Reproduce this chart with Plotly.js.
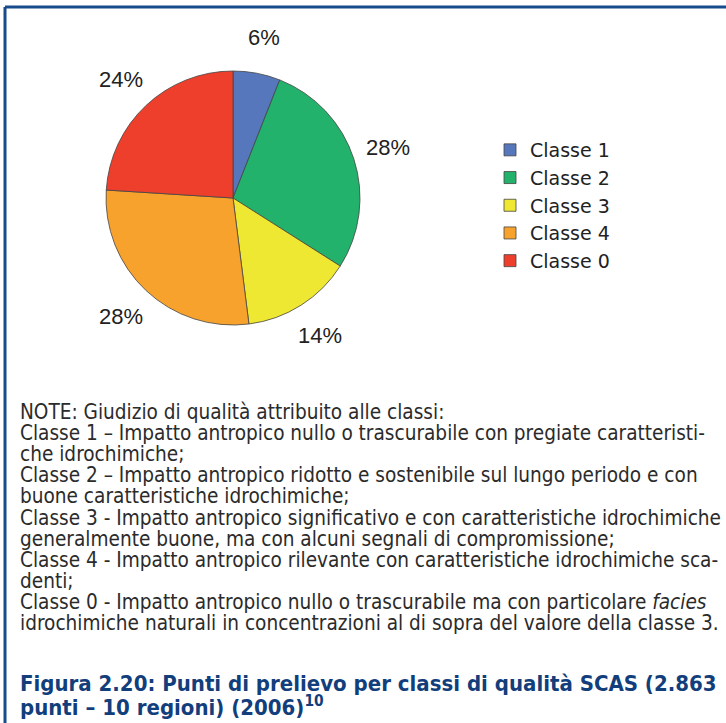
<!DOCTYPE html>
<html>
<head>
<meta charset="utf-8">
<script src="https://cdn.plot.ly/plotly-3.0.1.min.js"></script>
<style>html,body{margin:0;padding:0;background:#fff;}#chart{width:726px;height:723px;}</style>
</head>
<body>
<div id="chart"></div>
<script>
const categories = ["Classe 1", "Classe 2", "Classe 3", "Classe 4", "Classe 0"];
const values = [6, 28, 14, 28, 24];
const colors = ["#5677BC", "#22B26B", "#EEE832", "#F8A22E", "#EE3F2C"];
const noteLines = [
  "NOTE: Giudizio di qualità attribuito alle classi:",
  "Classe 1 – Impatto antropico nullo o trascurabile con pregiate caratteristi-",
  "che idrochimiche;",
  "Classe 2 – Impatto antropico ridotto e sostenibile sul lungo periodo e con",
  "buone caratteristiche idrochimiche;",
  "Classe 3 - Impatto antropico significativo e con caratteristiche idrochimiche",
  "generalmente buone, ma con alcuni segnali di compromissione;",
  "Classe 4 - Impatto antropico rilevante con caratteristiche idrochimiche sca-",
  "denti;",
  "Classe 0 - Impatto antropico nullo o trascurabile ma con particolare <i>facies</i>",
  "idrochimiche naturali in concentrazioni al di sopra del valore della classe 3."
];
const titleLines = [
  "Figura 2.20: Punti di prelievo per classi di qualità SCAS (2.863",
  "punti – 10 regioni) (2006)<sup>10</sup>"
];

const W = 726, H = 723;
const px = x => x / W;
const py = y => 1 - y / H;
const narrow = "DejaVu Sans Condensed, Liberation Sans Narrow, sans-serif";

// pie geometry (pixels)
const CX = 233, CY = 198, R = 127, LABEL_R = 163;

const annotations = [];
// percentage labels placed at each slice's mid-angle (derived from values)
const total = values.reduce((a, b) => a + b, 0);
let cum = 0;
values.forEach((v) => {
  const mid = (cum + v / 2) / total * 2 * Math.PI;
  cum += v;
  annotations.push({
    xref: "paper", yref: "paper",
    x: px(CX + LABEL_R * Math.sin(mid)), y: py(CY - LABEL_R * Math.cos(mid)),
    xanchor: "center", yanchor: "middle", showarrow: false,
    text: v + "%", font: {family: "Liberation Sans, Arial, sans-serif", size: 22, color: "#222"}
  });
});
noteLines.forEach((t, i) => {
  annotations.push({
    xref: "paper", yref: "paper", x: px(18), y: py(412 + i * 21.1),
    xanchor: "left", yanchor: "middle", showarrow: false, align: "left",
    text: t, font: {family: narrow, size: 20.6, color: "#2b2b2b"}
  });
});
titleLines.forEach((t, i) => {
  annotations.push({
    xref: "paper", yref: "paper", x: px(18), y: py(683 + i * 22.5),
    xanchor: "left", yanchor: "middle", showarrow: false, align: "left",
    text: "<b>" + t + "</b>", font: {family: narrow, size: 22, color: "#123E7C"}
  });
});

const data = [{
  type: "pie",
  labels: categories,
  values: values,
  sort: false,
  direction: "clockwise",
  rotation: 0,
  textinfo: "none",
  marker: {colors: colors, line: {color: "#444", width: 0.8}},
  domain: {x: [px(CX - R), px(CX + R)], y: [py(CY + R), py(CY - R)]},
  hoverinfo: "label+percent"
}];

const layout = {
  width: W, height: H,
  margin: {l: 0, r: 0, t: 0, b: 0},
  paper_bgcolor: "#fff",
  showlegend: true,
  legend: {
    x: px(490), y: py(131), xanchor: "left", yanchor: "top",
    font: {family: "DejaVu Sans, sans-serif", size: 19, color: "#222"},
    traceorder: "normal", itemwidth: 30, bgcolor: "rgba(0,0,0,0)"
  },
  annotations: annotations,
  shapes: [
    {type: "line", xref: "paper", yref: "paper", x0: px(5), x1: 1.01, y0: py(7), y1: py(7), line: {color: "#174B8C", width: 3}},
    {type: "line", xref: "paper", yref: "paper", x0: px(5), x1: px(5), y0: py(7), y1: -0.01, line: {color: "#174B8C", width: 3}}
  ]
};

Plotly.newPlot("chart", data, layout, {displayModeBar: false, staticPlot: true});
</script>
</body>
</html>
